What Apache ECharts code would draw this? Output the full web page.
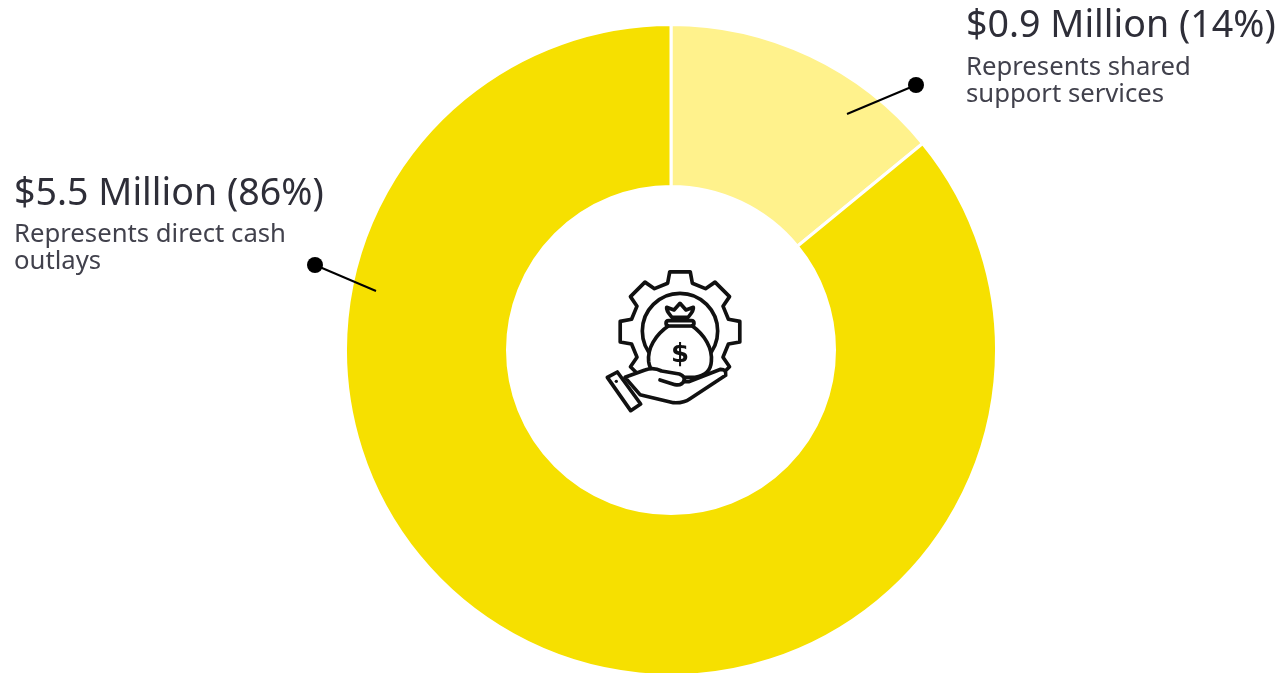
<!DOCTYPE html>
<html>
<head>
<meta charset="utf-8">
<style>html,body{margin:0;padding:0;background:#fff}#chart{width:1281px;height:673px}</style>
<script src="https://cdn.jsdelivr.net/npm/echarts@6/dist/echarts.min.js"></script>
</head>
<body>
<div id="chart"></div>
<script>
// Cost split shown in the ring, clockwise from twelve o'clock
const categories = ['Shared support services', 'Direct cash outlays'];
const amounts = [0.9, 5.5];
const sliceColors = ['#fff28c', '#f6e000'];
const headlines = ['$0.9 Million (14%)', '$5.5 Million (86%)'];
const notes = [['Represents shared', 'support services'], ['Represents direct cash', 'outlays']];

const FONT = 'Noto Sans';
const INK = '#2e2e38';
const NOTE_INK = '#41414c';

// Callout placement: text left edge, vertical text centres, pin and leader end
const callouts = [
  { x: 966, head: 26, lines: [68, 95], pin: [916, 85], tip: [847, 114] },
  { x: 14, head: 194, lines: [235, 262], pin: [315, 265], tip: [376, 291] }
];

function calloutGraphics() {
  const out = [];
  callouts.forEach((c, i) => {
    out.push({ type: 'text', z: 10, silent: true, style: { x: c.x, y: c.head, text: headlines[i], font: '400 37.6px "' + FONT + '"', fill: INK, verticalAlign: 'middle' } });
    notes[i].forEach((line, j) => {
      out.push({ type: 'text', z: 10, silent: true, style: { x: c.x, y: c.lines[j], text: line, font: '400 25.7px "' + FONT + '"', fill: NOTE_INK, verticalAlign: 'middle' } });
    });
    out.push({ type: 'line', z: 10, silent: true, shape: { x1: c.pin[0], y1: c.pin[1], x2: c.tip[0], y2: c.tip[1] }, style: { stroke: '#000', lineWidth: 2 } });
    out.push({ type: 'circle', z: 10, silent: true, shape: { cx: c.pin[0], cy: c.pin[1], r: 8 }, style: { fill: '#000' } });
  });
  return out;
}

// Eight-toothed gear outline, top tooth pointing straight up
function gearPath(cx, cy, rBody, rTip) {
  let d = '';
  for (let k = 0; k < 8; k++) {
    const a = -Math.PI / 2 + k * Math.PI / 4;
    const pts = [[rBody, -0.25], [rTip, -0.17], [rTip, 0.17], [rBody, 0.25]];
    pts.forEach(([r, da]) => {
      const x = cx + r * Math.cos(a + da), y = cy + r * Math.sin(a + da);
      d += (d ? 'L' : 'M') + x.toFixed(1) + ' ' + y.toFixed(1);
    });
  }
  return d + 'Z';
}

// The graphic component only knows named shapes, so each outline gets registered
function outline(name, d) {
  echarts.graphic.registerShape(name, echarts.graphic.extendPath(d));
  return name;
}

// Money-bag-in-hand emblem for the middle of the ring; children stack in list order
function emblem() {
  const stroke = { stroke: '#111', lineWidth: 11, lineJoin: 'round', lineCap: 'round' };
  const white = Object.assign({ fill: '#fff' }, stroke);
  const none = Object.assign({ fill: 'none' }, stroke);
  const shape = (name, d, style) => ({ type: outline(name, d), z: 10, style });
  return {
    type: 'group', x: 590, y: 260, scaleX: 1 / 3, scaleY: 1 / 3, silent: true,
    children: [
      shape('emblemGear', gearPath(270, 215, 150, 182), white),
      { type: 'circle', z: 10, shape: { cx: 270, cy: 213, r: 113 }, style: white },
      shape('emblemBag', 'M238 196 C195 225 172 265 176 305 C180 335 200 348 225 352 L315 352 C342 348 362 335 364 305 C368 265 345 225 304 196 Z', white),
      shape('emblemKnot', 'M246 172 C236 160 228 152 230 142 L252 150 L270 130 L288 150 L310 142 C312 152 304 160 294 172 Z', white),
      shape('emblemNeck', 'M236 182 Q228 182 228 190 Q228 198 238 198 L302 198 Q312 198 312 190 Q312 182 304 182 Z', white),
      { type: 'text', z: 10, style: { x: 270, y: 286, text: '$', font: '700 78px "DejaVu Sans"', fill: '#111', align: 'center', verticalAlign: 'middle' } },
      shape('emblemHand', 'M105 352 L165 330 Q190 320 215 333 L268 342 Q288 350 282 365 L296 365 L392 328 Q410 328 407 346 L300 416 Q280 430 250 428 L150 404 Z', white),
      shape('emblemThumb', 'M210 360 L255 374 Q275 378 282 362', none),
      shape('emblemCuff', 'M52 352 L82 336 L152 432 L122 452 Z', white),
      { type: 'circle', z: 10, shape: { cx: 79, cy: 364, r: 5 }, style: { fill: '#111' } }
    ]
  };
}

const chart = echarts.init(document.getElementById('chart'), null, { renderer: 'canvas' });
chart.setOption({
  animation: false,
  backgroundColor: '#fff',
  series: [{
    type: 'pie',
    center: [671, 350],
    radius: [163.5, 325.5],
    startAngle: 90,
    clockwise: true,
    silent: true,
    label: { show: false },
    labelLine: { show: false },
    itemStyle: { borderColor: '#fff', borderWidth: 3 },
    data: categories.map((name, i) => ({ name, value: amounts[i], itemStyle: { color: sliceColors[i] } }))
  }],
  graphic: { elements: calloutGraphics().concat([emblem()]) }
});
</script>
</body>
</html>
